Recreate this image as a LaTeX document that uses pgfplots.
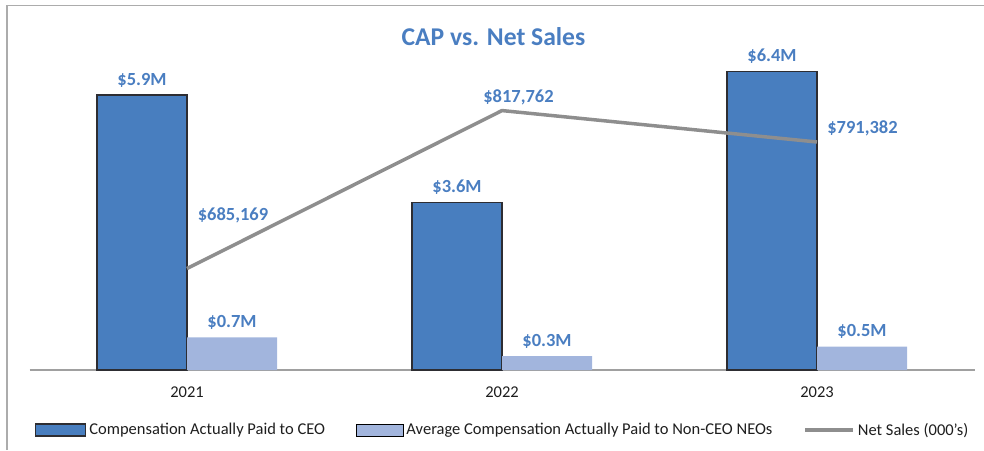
\documentclass[border=0pt]{standalone}
\usepackage{pgfplots}
\pgfplotsset{compat=1.18}
\usepackage{pgfplotstable}
\usepackage{fontspec}
\setmainfont{Carlito}
\definecolor{ceoblue}{RGB}{72,126,191}
\definecolor{neoblue}{RGB}{162,181,221}
\definecolor{barborder}{RGB}{45,45,50}
\definecolor{linegray}{RGB}{142,142,142}
\definecolor{labelblue}{RGB}{74,126,193}
\definecolor{ticktext}{RGB}{30,30,30}
\definecolor{axisgray}{RGB}{160,160,160}
\definecolor{framegray}{RGB}{172,172,172}

\pgfplotsset{
  legbar/.style={legend image code/.code={\draw[##1] (0pt,-6pt) rectangle (#1,6pt);}},
  legline/.style={legend image code/.code={\draw[##1] (0pt,0pt) -- (48pt,0pt);}},
}

\pgfplotstableread{
x y
0 5.9
1 3.6
2 6.4
}\ceodata
\pgfplotstableread{
x y
0 0.7
1 0.3
2 0.5
}\neodata
\pgfplotstableread{
x y label dx dy
0 685169 685,169 46 53
1 817762 817,762 16.5 13
2 791382 791,382 45.5 13.5
}\salesdata

\begin{document}
\begin{tikzpicture}
\useasboundingbox (-29.5pt,-80pt) rectangle (954.5pt,370pt);
\draw[framegray, line width=1.8pt] (-22.5pt,-80pt) -- (-22.5pt,364.5pt) -- (954.5pt,364.5pt);

\begin{axis}[
  at={(0pt,0pt)}, anchor=south west,
  scale only axis, width=945pt, height=330pt,
  xmin=-0.5, xmax=2.5, ymin=0, ymax=7.08,
  axis x line=bottom, axis y line=none,
  x axis line style={-, draw=axisgray, line width=1.2pt},
  xtick={0,1,2}, xticklabels={2021,2022,2023},
  major tick length=0pt,
  xticklabel style={font=\fontsize{16.5}{20}\selectfont, text=ticktext, anchor=base, inner sep=0pt, yshift=-27pt},
  ytick=\empty,
  ybar, bar width=0.2857,
  clip=false,
  nodes near coords={\$\pgfmathprintnumber[fixed,fixed zerofill,precision=1,assume math mode=true]{\pgfplotspointmeta}M},
  nodes near coords style={font=\bfseries\fontsize{18.5}{22}\selectfont, text=labelblue, anchor=base, inner sep=0pt, yshift=10pt},
  legend style={draw=none, fill=none, inner sep=0pt, at={(0.00582,-0.1818)}, anchor=west,
    font=\fontsize{16.5}{20}\selectfont, text=ticktext,
    nodes={inner xsep=3pt, inner ysep=0pt},
    /tikz/every even column/.append style={column sep=28pt}},
  legend columns=3, legend cell align=left,
]
\addplot[fill=ceoblue, draw=barborder, line width=1.2pt, bar shift=-0.14286, legbar=50pt]
  table[x=x,y=y]{\ceodata};
\addlegendentry{Compensation Actually Paid to CEO}
\addplot[fill=neoblue, draw=none, bar shift=0.14286, legbar=47pt]
  table[x=x,y=y]{\neodata};
\addlegendentry{Average Compensation Actually Paid to Non-CEO NEOs}
\addlegendimage{legline, draw=linegray, line width=3.5pt}
\addlegendentry{Net Sales (000’s)}
\end{axis}

\begin{axis}[
  at={(0pt,0pt)}, anchor=south west,
  scale only axis, width=945pt, height=330pt,
  xmin=-0.5, xmax=2.5, ymin=600000, ymax=877000,
  hide axis, clip=false,
]
\addplot[draw=linegray, line width=3.5pt, mark=none, line join=round,
  point meta=explicit symbolic,
  visualization depends on={\thisrow{dx}\as\dx},
  visualization depends on={\thisrow{dy}\as\dy},
  nodes near coords={\$\pgfplotspointmeta},
  nodes near coords style={font=\bfseries\fontsize{18.5}{22}\selectfont, text=labelblue, anchor=center, inner sep=0pt, xshift=\dx pt, yshift=\dy pt}]
  table[x=x, y=y, meta=label]{\salesdata};
\end{axis}

\node[font=\bfseries\fontsize{25.6}{30}\selectfont, text=labelblue] at (464pt,333pt) {CAP vs. Net Sales};
\end{tikzpicture}
\end{document}
